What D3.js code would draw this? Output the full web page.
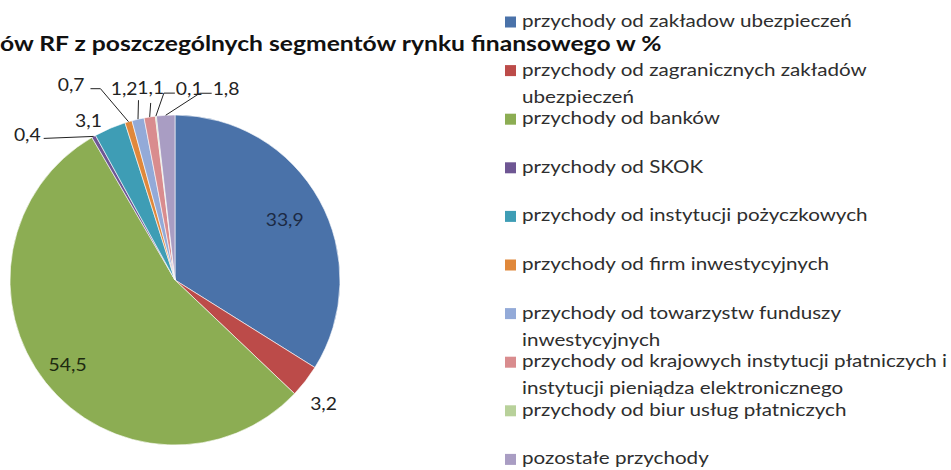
<!DOCTYPE html>
<html lang="pl">
<head>
<meta charset="UTF-8">
<title>Przychody RF</title>
<script src="https://cdn.jsdelivr.net/npm/d3@7"></script>
<style>
  html, body { margin: 0; padding: 0; background: #fff; }
  svg { display: block; }
</style>
</head>
<body>
<div id="chart"></div>
<script>
// dane
const categories = [
  "przychody od zakładow  ubezpieczeń",
  "przychody od zagranicznych zakładów\nubezpieczeń",
  "przychody od banków",
  "przychody od SKOK",
  "przychody od instytucji  pożyczkowych",
  "przychody od firm inwestycyjnych",
  "przychody od towarzystw  funduszy\ninwestycyjnych",
  "przychody od krajowych instytucji  płatniczych i\ninstytucji pieniądza elektronicznego",
  "przychody od biur usług płatniczych",
  "pozostałe przychody"
];
const values = [33.9, 3.2, 54.5, 0.4, 3.1, 0.7, 1.2, 1.1, 0.1, 1.8];
const colors = ["#4A72A9", "#BC4B49", "#8CAD53", "#6E5693", "#3E9DB5",
                "#E0883B", "#93AAD8", "#D98C8E", "#B8D19A", "#A99DC3"];
const title = "ów RF z poszczególnych segmentów rynku finansowego w %";

// rozmieszczenie etykiet (pos = promień * k + przesunięcie, leader = z linią)
const labelLayout = [
  { mode: "pos", k: 0.76, dx: 0, dy: 0 },
  { mode: "pos", k: 1.17, dx: -4, dy: 5 },
  { mode: "pos", k: 0.83, dx: 0, dy: 0 },
  { mode: "leader", pts: [[-50, 2]], text: [-3, -4], anchor: "end" },
  { mode: "pos", k: 1.10, dx: -15, dy: 7 },
  { mode: "leader", pts: [[-28, -33], [-38, -33]], text: [-6, -4], anchor: "end" },
  { mode: "leader", pts: [[0.5, -19]], text: [-1, -12], anchor: "end" },
  { mode: "leader", pts: [[1, -14]], text: [0, -15], anchor: "middle" },
  { mode: "leader", pts: [[8, -23], [19, -23]], text: [1, -5], anchor: "start" },
  { mode: "leader", pts: [[34, -22], [46, -22]], text: [1, -5], anchor: "start" }
];

const W = 951, H = 470;
const cx = 175, cy = 280, R = 165;
const font = "Lato, 'Open Sans', sans-serif";

const svg = d3.select("#chart").append("svg")
  .attr("width", W).attr("height", H);

// współczynnik poziomego rozciągnięcia tekstu do zadanej szerokości
function stretch(sel, target) {
  const w = sel.node().getComputedTextLength();
  return target / w;
}

// tytuł
const tg = svg.append("g");
const tt = tg.append("text")
  .attr("x", 0).attr("y", 0)
  .attr("font-family", font).attr("font-weight", "bold")
  .attr("font-size", 21).attr("fill", "#111")
  .text(title);
tg.attr("transform", `translate(0,51) scale(${stretch(tt, 662)},1)`);

// wykres kołowy
const pie = d3.pie().sort(null).value(d => d)
  .startAngle(0).endAngle(2 * Math.PI);
const arcs = pie(values);
const arc = d3.arc().innerRadius(0).outerRadius(R);

const g = svg.append("g").attr("transform", `translate(${cx},${cy})`);
g.selectAll("path.slice")
  .data(arcs)
  .join("path")
  .attr("class", "slice")
  .attr("d", arc)
  .attr("fill", (d, i) => colors[i])
  .attr("stroke", "#fff")
  .attr("stroke-width", 0.6);

// etykiety wartości
const fmt = v => String(v).replace(".", ",");
function polar(a, r) { return [Math.sin(a) * r, -Math.cos(a) * r]; }

const lblG = g.append("g");
const labelTexts = [];
arcs.forEach((d, i) => {
  const L = labelLayout[i];
  const mid = (d.startAngle + d.endAngle) / 2;
  let x, y, anchor = "middle";
  if (L.mode === "pos") {
    const p = polar(mid, L.k * R);
    x = p[0] + L.dx; y = p[1] + L.dy;
  } else {
    const e = polar(mid, R);
    const pts = [e].concat(L.pts.map(o => [e[0] + o[0], e[1] + o[1]]));
    lblG.append("path")
      .attr("d", d3.line()(pts))
      .attr("fill", "none")
      .attr("stroke", "#222")
      .attr("stroke-width", 1);
    const last = pts[pts.length - 1];
    x = last[0] + L.text[0]; y = last[1] + L.text[1];
    anchor = L.anchor;
  }
  const t = lblG.append("text")
    .attr("transform", `translate(${x},${y})`)
    .attr("text-anchor", anchor)
    .attr("dy", "0.36em")
    .attr("font-family", font)
    .attr("font-size", 18)
    .attr("fill", i === 0 ? "#1c2a44" : (i === 2 ? "#1d2a10" : "#222"))
    .text(fmt(values[i]));
  labelTexts.push({ t, x, y });
});
// szerokość etykiet jak na oryginale ("33,9" ~38 px)
const kLbl = stretch(labelTexts[0].t, 38);
labelTexts.forEach(o => o.t.attr("transform", `translate(${o.x},${o.y}) scale(${kLbl},1)`));

// legenda
const legX = 505, legY0 = 22, legStep = 48.6, lineH = 27, sq = 11;
const leg = svg.append("g");
const legTexts = [];
categories.forEach((c, i) => {
  const yc = legY0 + i * legStep;
  leg.append("rect")
    .attr("x", legX).attr("y", yc - sq / 2)
    .attr("width", sq).attr("height", sq)
    .attr("fill", colors[i]);
  c.split("\n").forEach((line, j) => {
    const gy = yc + j * lineH + 5;
    const gg = leg.append("g");
    const t = gg.append("text")
      .attr("font-family", font)
      .attr("font-size", 18)
      .attr("fill", "#2e2e2e")
      .text(line);
    legTexts.push({ gg, gy, t });
  });
});
const kLeg = stretch(legTexts[0].t, 330);
legTexts.forEach(o => o.gg.attr("transform", `translate(${legX + 17},${o.gy}) scale(${kLeg},1)`));
</script>
</body>
</html>
